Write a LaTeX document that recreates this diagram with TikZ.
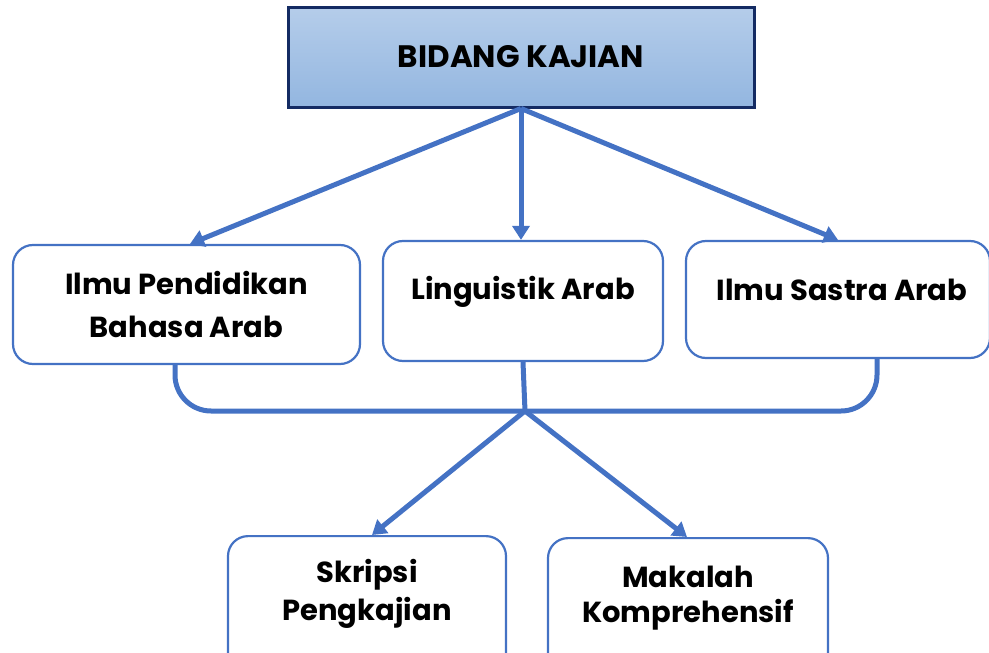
\documentclass[tikz,border=0pt]{standalone}
\usepackage{fontspec}
\setmainfont{Poppins}
\usetikzlibrary{arrows.meta}
\definecolor{lineblue}{HTML}{4472C4}
\definecolor{navy}{HTML}{142B63}
\definecolor{topA}{HTML}{B5CDEA}
\definecolor{topB}{HTML}{93B6E0}
\tikzset{
  x=1pt,y=-1pt,
  boxstyle/.style={draw=lineblue,line width=2.2pt,rounded corners=20pt,fill=white,inner sep=0pt},
  lbl/.style={font=\fontsize{29}{40}\selectfont\bfseries,align=center,text=black,inner sep=0pt},
  titlelbl/.style={lbl,font=\fontsize{31}{40}\selectfont\bfseries},
  conn/.style={draw=lineblue,line width=5pt},
  arr/.style={conn,-{Triangle[length=14pt,width=17pt]}},
}
\begin{document}
\begin{tikzpicture}
\useasboundingbox (0,0) rectangle (989,653);
\clip (0,0) rectangle (989,653);
% top box
\node[draw=navy,line width=3pt,top color=topA,bottom color=topB,minimum width=466pt,minimum height=100pt,inner sep=0pt] (b0) at (521,57) {};
\node[titlelbl] (t0) at (521,57) {BIDANG KAJIAN};
% second row
\node[boxstyle,minimum width=347pt,minimum height=119pt] (b1) at (186.5,304.5) {};
\node[boxstyle,minimum width=280pt,minimum height=120pt] (b2) at (523,301) {};
\node[boxstyle,minimum width=304pt,minimum height=117pt] (b3) at (838,299.5) {};
\node[lbl] (t1a) at (186.5,283) {Ilmu Pendidikan};
\node[lbl] (t1b) at (186.5,327) {Bahasa Arab};
\node[lbl] (t2) at (523,292) {Linguistik Arab};
\node[lbl] (t3) at (842,290) {Ilmu Sastra Arab};
% bottom row
\node[boxstyle,minimum width=278pt,minimum height=150pt,anchor=north] (b4) at (367,535) {};
\node[boxstyle,minimum width=280pt,minimum height=150pt,anchor=north] (b5) at (688,537) {};
\node[lbl] (t4a) at (367,575) {Skripsi};
\node[lbl] (t4b) at (367,613) {Pengkajian};
\node[lbl] (t5a) at (688,577) {Makalah};
\node[lbl] (t5b) at (688,615) {Komprehensif};
% top connectors
\coordinate (s0) at (b0.south);
\draw[arr] (s0) -- (b1.north -| 190,0);
\draw[arr] (s0) -- (b2.north -| 521,0);
\draw[arr] (s0) -- (b3.north -| 838,0);
% bracket
\coordinate (j) at (525,411);
\draw[conn,rounded corners=36pt] (b1.south -| 175,0) -- (175,411) -- (877,411) -- (b3.south -| 877,0);
\draw[conn] (b2.south) -- (j);
\draw[arr] (j) -- (b4.north -| 372,0);
\draw[arr] (j) -- (b5.north -| 687,0);
\end{tikzpicture}
\end{document}
